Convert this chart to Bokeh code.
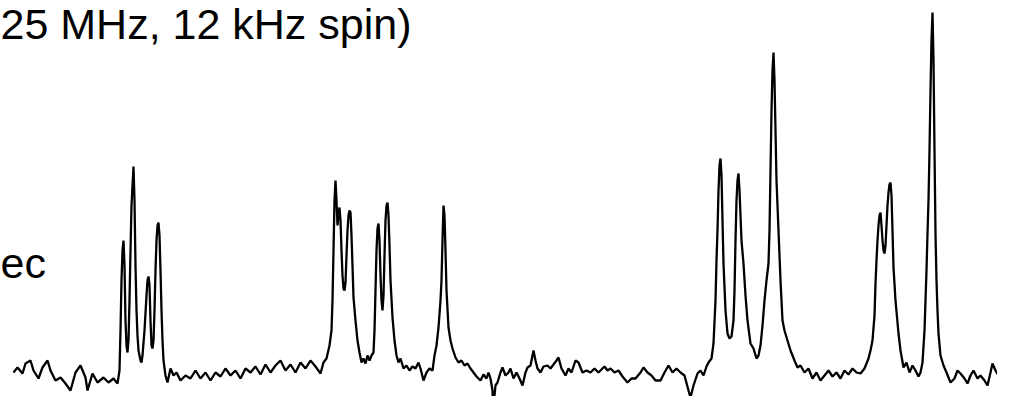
from bokeh.plotting import figure
from bokeh.models import Label, ColumnDataSource
from bokeh.embed import file_html
from bokeh.resources import INLINE

# Spectrum trace: position (arbitrary, left->right) and intensity
pos = [13, 17, 22, 25, 30, 33, 38, 42, 47, 50, 55, 60, 65, 70, 75, 80, 85, 87, 92, 97,
       103, 108, 113, 117, 119, 120, 121, 122, 123, 124, 125, 126, 127, 128, 129, 130,
       131, 132, 133, 134, 135, 136, 137, 138, 140, 141, 142, 144, 146, 147, 148, 149,
       150, 151, 152, 153, 154, 155, 156, 157, 158, 159, 160, 161, 162, 163, 165, 167,
       170, 173, 176, 180, 185, 190, 195, 200, 205, 210, 215, 220, 225, 230, 235, 240,
       245, 250, 255, 260, 265, 270, 275, 280, 285, 290, 295, 300, 305, 310, 315, 320,
       323, 326, 329, 331, 332, 333, 334, 335, 336, 337, 338, 339, 340, 341, 342, 343,
       344, 345, 346, 347, 348, 349, 350, 351, 352, 353, 355, 357, 359, 361, 363, 365,
       367, 369, 371, 373, 374, 375, 376, 377, 378, 379, 380, 381, 382, 383, 384, 385,
       386, 387, 388, 389, 390, 392, 394, 396, 398, 400, 403, 406, 409, 412, 415, 418,
       420, 423, 426, 429, 432, 434, 436, 438, 440, 441, 442, 443, 444, 445, 446, 448,
       450, 452, 455, 458, 461, 464, 467, 470, 473, 476, 480, 483, 486, 488, 490, 492,
       493, 494, 495, 497, 500, 502, 505, 508, 510, 513, 516, 519, 522, 525, 527, 530,
       533, 535, 537, 540, 543, 547, 550, 553, 556, 558, 561, 565, 568, 571, 575, 578,
       582, 586, 590, 594, 598, 600, 604, 607, 610, 614, 618, 622, 627, 631, 635, 640,
       643, 647, 651, 655, 660, 664, 668, 672, 676, 680, 684, 688, 690, 693, 697, 700,
       703, 706, 708, 711, 713, 715, 716, 717, 718, 719, 720, 721, 722, 723, 725, 727,
       729, 731, 733, 734, 735, 736, 737, 738, 739, 740, 741, 743, 745, 747, 750, 753,
       756, 758, 760, 762, 764, 766, 768, 769, 770, 771, 772, 773, 774, 775, 776, 778,
       780, 782, 784, 787, 790, 794, 797, 800, 804, 808, 812, 816, 820, 824, 828, 832,
       836, 840, 844, 848, 852, 856, 860, 864, 868, 870, 872, 874, 875, 876, 877, 878,
       879, 880, 881, 882, 883, 884, 885, 886, 887, 888, 889, 890, 891, 892, 893, 895,
       898, 900, 903, 906, 909, 912, 915, 918, 920, 922, 924, 925, 926, 927, 928, 929,
       930, 931, 932, 933, 934, 935, 936, 937, 938, 940, 943, 946, 950, 954, 957, 960,
       964, 967, 970, 973, 977, 980, 984, 987, 990, 992, 995, 998, 1000, 1004, 1007,
       1010, 1013]

intensity = [40, 45, 39, 49, 52, 42, 34, 45, 52, 42, 32, 35, 29, 22, 40, 47, 35, 22, 39, 30,
             35, 30, 34, 29, 42, 82, 132, 162, 172, 147, 92, 67, 60, 72, 112, 162,
             207, 227, 246, 212, 147, 102, 77, 62, 52, 50, 57, 82, 117, 132, 136, 127,
             92, 67, 64, 72, 102, 142, 172, 187, 190, 177, 142, 102, 72, 52, 37, 30,
             44, 37, 40, 32, 37, 34, 42, 34, 40, 32, 40, 36, 44, 37, 42, 34,
             44, 40, 46, 38, 48, 40, 47, 52, 42, 48, 40, 50, 44, 52, 46, 39,
             50, 54, 67, 82, 112, 162, 212, 232, 212, 187, 197, 205, 192, 162, 137, 124,
             122, 130, 157, 182, 197, 202, 200, 177, 147, 115, 92, 72, 60, 50, 54, 49,
             57, 52, 57, 60, 82, 122, 162, 184, 189, 172, 137, 112, 102, 117, 157, 192,
             207, 210, 197, 167, 132, 95, 72, 57, 50, 54, 44, 47, 42, 46, 44, 50,
             44, 32, 40, 44, 42, 57, 67, 85, 112, 132, 172, 207, 197, 162, 122, 85,
             72, 64, 55, 50, 52, 47, 49, 44, 40, 36, 32, 38, 34, 40, 34, 22,
             -8, 17, 27, 30, 40, 45, 37, 40, 44, 34, 40, 34, 27, 40, 45, 47,
             62, 52, 44, 40, 46, 47, 44, 48, 52, 55, 44, 37, 44, 40, 52, 50,
             40, 42, 40, 44, 40, 42, 46, 42, 44, 40, 42, 36, 30, 34, 34, 40,
             45, 40, 37, 32, 32, 40, 47, 40, 44, 40, 37, 22, 15, 27, 39, 42,
             37, 46, 50, 54, 69, 112, 152, 182, 222, 247, 254, 237, 192, 149, 102, 79,
             74, 76, 92, 122, 172, 212, 232, 239, 222, 197, 172, 149, 117, 92, 69, 64,
             54, 57, 67, 87, 112, 132, 149, 182, 242, 302, 342, 360, 332, 282, 232, 182,
             132, 92, 82, 72, 62, 52, 45, 47, 40, 44, 34, 40, 32, 37, 42, 36,
             40, 34, 42, 38, 44, 40, 39, 44, 54, 62, 72, 97, 129, 152, 172, 187,
             197, 200, 187, 172, 162, 159, 167, 187, 207, 220, 228, 230, 217, 182, 145, 112,
             79, 62, 45, 50, 40, 47, 42, 36, 40, 50, 82, 112, 142, 179, 212, 262,
             322, 372, 400, 352, 262, 179, 132, 102, 79, 57, 47, 40, 30, 34, 42, 39,
             34, 29, 37, 42, 34, 37, 32, 27, 40, 49, 42, 37, 35, 42, 40,
             45, 42]

title_text = "25 MHz, 12 kHz spin)"
side_text = "ec"

p = figure(width=997, height=396, x_range=(0, 997), y_range=(16, 412),
           output_backend="svg", toolbar_location=None, min_border=0,
           border_fill_color="white", background_fill_color="white")
p.axis.visible = False
p.xgrid.visible = False
p.ygrid.visible = False
p.outline_line_color = None

src = ColumnDataSource(data=dict(pos=pos, intensity=intensity))
p.line("pos", "intensity", source=src, line_color="black", line_width=2.3)

p.add_layout(Label(x=0, y=389, text=title_text, text_font="Liberation Sans",
                   text_font_size="43px", text_color="black", text_baseline="alphabetic"))
p.add_layout(Label(x=0, y=150, text=side_text, text_font="Liberation Sans",
                   text_font_size="43px", text_color="black", text_baseline="alphabetic"))

open("out.html", "w").write(file_html(p, INLINE))
